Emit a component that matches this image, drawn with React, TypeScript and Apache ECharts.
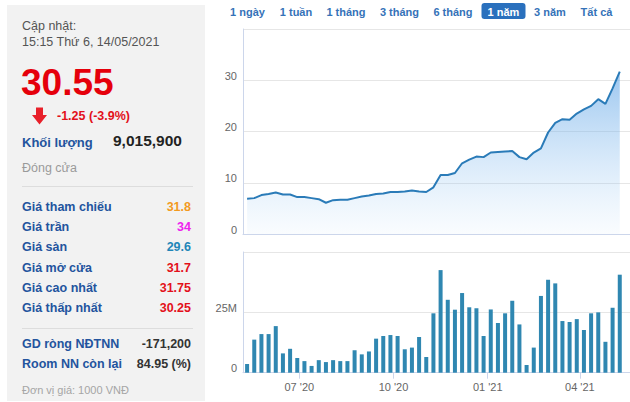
import React, { useEffect, useRef } from "react";
import * as echarts from "echarts";

// Weekly dates (week start)
const weeks: string[] = [
  "2020-05-11", "2020-05-18", "2020-05-25",
  "2020-06-01", "2020-06-08", "2020-06-15", "2020-06-22", "2020-06-29",
  "2020-07-06", "2020-07-13", "2020-07-20", "2020-07-27",
  "2020-08-03", "2020-08-10", "2020-08-17", "2020-08-24", "2020-08-31",
  "2020-09-07", "2020-09-14", "2020-09-21", "2020-09-28",
  "2020-10-05", "2020-10-12", "2020-10-19", "2020-10-26",
  "2020-11-02", "2020-11-09", "2020-11-16", "2020-11-23", "2020-11-30",
  "2020-12-07", "2020-12-14", "2020-12-21", "2020-12-28",
  "2021-01-04", "2021-01-11", "2021-01-18", "2021-01-25",
  "2021-02-01", "2021-02-08", "2021-02-15", "2021-02-22",
  "2021-03-01", "2021-03-08", "2021-03-15", "2021-03-22", "2021-03-29",
  "2021-04-05", "2021-04-12", "2021-04-19", "2021-04-26",
  "2021-05-03", "2021-05-10",
];

// Closing price (thousand VND)
const prices: number[] = [
  6.9, 7.0, 7.6, 7.8, 8.1, 7.7, 7.7, 7.2, 7.2, 7.0,
  6.8, 6.1, 6.6, 6.7, 6.7, 7.0, 7.3, 7.5, 7.8, 7.9,
  8.2, 8.2, 8.3, 8.5, 8.3, 8.2, 9.1, 11.5, 11.5, 11.9,
  13.8, 14.5, 15.1, 15.0, 15.9, 16.0, 16.1, 16.2, 15.0, 14.6,
  15.9, 16.7, 19.8, 21.7, 22.4, 22.3, 23.5, 24.3, 25.0, 26.3,
  25.4, 28.4, 31.7,
];

// Volume (millions of shares)
const volumes: number[] = [
  3.6, 13.7, 16.0, 16.0, 19.3, 8.0, 9.9, 6.1, 4.8, 2.8,
  5.2, 4.4, 5.2, 4.8, 4.8, 9.3, 7.6, 8.8, 14.1, 15.2,
  15.6, 15.2, 9.7, 10.4, 14.8, 6.5, 24.6, 42.5, 30.2, 26.1,
  33.0, 27.1, 26.7, 15.2, 26.2, 20.6, 24.6, 29.8, 20.0, 3.2,
  10.4, 31.8, 38.5, 37.0, 21.4, 21.0, 22.2, 17.7, 24.6, 25.0,
  12.8, 26.9, 40.6,
];

const quarterTicks: string[] = ["2020-07-01", "2020-10-01", "2021-01-01", "2021-04-01"];
const xRange: string[] = ["2020-05-07", "2021-05-20"];
const priceTicks: number[] = [0, 10, 20, 30, 40];
const volumeTicks: number[] = [0, 25, 50];

const tabs: string[] = ["1 ngày", "1 tuần", "1 tháng", "3 tháng", "6 tháng", "1 năm", "3 năm", "Tất cả"];
const tabCenters: number[] = [247.5, 296, 346, 399.5, 453, 503.5, 550, 596.5];
const activeTab = "1 năm";

const infoRows: { label: string; value: string; color: string }[] = [
  { label: "Giá tham chiếu", value: "31.8", color: "#f39a1e" },
  { label: "Giá trần", value: "34", color: "#ee22ee" },
  { label: "Giá sàn", value: "29.6", color: "#1f86b8" },
  { label: "Giá mở cửa", value: "31.7", color: "#e3101a" },
  { label: "Giá cao nhất", value: "31.75", color: "#e3101a" },
  { label: "Giá thấp nhất", value: "30.25", color: "#e3101a" },
];
const foreignRows: { label: string; value: string }[] = [
  { label: "GD ròng NĐTNN", value: "-171,200" },
  { label: "Room NN còn lại", value: "84.95 (%)" },
];

const FONT = "'Liberation Sans', Arial, Helvetica, sans-serif";
const BLUE = "#23549e";

function parseDay(s: string): number {
  const [y, m, d] = s.split("-").map(Number);
  return new Date(y, m - 1, d).getTime();
}

export default function App() {
  const ref = useRef<HTMLDivElement>(null);

  useEffect(() => {
    if (!ref.current) return;
    const chart = echarts.init(ref.current, undefined, { renderer: "svg" });

    const xMin = parseDay(xRange[0]);
    const xMax = parseDay(xRange[1]);
    const qTicks = quarterTicks.map(parseDay);
    const weekTs = weeks.map(parseDay);

    const graphics: any[] = [];
    // left panel
    graphics.push({ type: "rect", shape: { x: 7, y: 5, width: 198, height: 396 }, style: { fill: "#f2f2f2" }, silent: true });
    const txt = (x: number, y: number, text: string, font: string, fill: string, align = "left") => ({
      type: "text",
      x,
      y,
      style: { text, font, fill, textAlign: align, textVerticalAlign: "middle" },
      silent: true,
    });
    graphics.push(txt(22, 26, "Cập nhật:", `12.5px ${FONT}`, "#555555"));
    graphics.push(txt(22, 41.5, "15:15 Thứ 6, 14/05/2021", `12.5px ${FONT}`, "#555555"));
    graphics.push(txt(21, 82, "30.55", `bold 37px ${FONT}`, "#e5000b"));
    graphics.push({
      type: "polygon",
      shape: { points: [[36, 107.5], [43, 107.5], [43, 115], [47, 115], [39.5, 124.5], [32, 115], [36, 115]] },
      style: { fill: "#e8202a" },
      silent: true,
    });
    graphics.push(txt(57, 116, "-1.25 (-3.9%)", `bold 12.5px ${FONT}`, "#e3101a"));
    graphics.push(txt(22, 142, "Khối lượng", `bold 13px ${FONT}`, BLUE));
    graphics.push(txt(113, 140.5, "9,015,900", `bold 15.5px ${FONT}`, "#222222"));
    graphics.push(txt(22, 168, "Đóng cửa", `12.5px ${FONT}`, "#9a9a9a"));
    graphics.push({ type: "line", shape: { x1: 22, y1: 186.5, x2: 193, y2: 186.5 }, style: { stroke: "#dddddd", lineWidth: 1 }, silent: true });
    infoRows.forEach((r, i) => {
      const y = 206.7 + i * 20.3;
      graphics.push(txt(22, y, r.label, `bold 12.5px ${FONT}`, BLUE));
      graphics.push(txt(191, y, r.value, `bold 12.5px ${FONT}`, r.color, "right"));
    });
    graphics.push({ type: "line", shape: { x1: 22, y1: 328.5, x2: 193, y2: 328.5 }, style: { stroke: "#dddddd", lineWidth: 1 }, silent: true });
    foreignRows.forEach((r, i) => {
      const y = 344 + i * 20.3;
      graphics.push(txt(22, y, r.label, `bold 12.5px ${FONT}`, BLUE));
      graphics.push(txt(191, y, r.value, `bold 12.5px ${FONT}`, "#333333", "right"));
    });
    graphics.push(txt(22, 390, "Đơn vị giá: 1000 VNĐ", `11px ${FONT}`, "#a5a5a5"));

    // tabs
    tabs.forEach((t, i) => {
      const cx = tabCenters[i];
      if (t === activeTab) {
        graphics.push({ type: "rect", shape: { x: 481.5, y: 3, width: 44, height: 16, r: 3 }, style: { fill: "#2a70bd" }, silent: true });
        graphics.push(txt(cx, 11.5, t, `bold 11px ${FONT}`, "#ffffff", "center"));
      } else {
        graphics.push(txt(cx, 11.5, t, `bold 11px ${FONT}`, "#3572b8", "center"));
      }
    });

    const fmtQuarter = (v: number) => {
      const d = new Date(v);
      const m = String(d.getMonth() + 1).padStart(2, "0");
      const y = String(d.getFullYear()).slice(2);
      return `${m} '${y}`;
    };

    chart.setOption({
      animation: false,
      backgroundColor: "#ffffff",
      textStyle: { fontFamily: FONT },
      grid: [
        { left: 243, top: 29, right: 0, height: 205, outerBoundsMode: "none" },
        { left: 243, top: 252, right: 0, height: 120.7, outerBoundsMode: "none" },
      ],
      xAxis: [
        {
          type: "value",
          gridIndex: 0,
          min: xMin,
          max: xMax,
          axisLine: { show: true, onZero: false, lineStyle: { color: "#ccd6eb" } },
          axisTick: { show: false },
          axisLabel: { show: false },
          splitLine: { show: false },
        },
        {
          type: "value",
          gridIndex: 1,
          min: xMin,
          max: xMax,
          axisLine: { show: true, onZero: false, lineStyle: { color: "#ccd6eb" } },
          axisTick: { show: true, customValues: qTicks, length: 6, lineStyle: { color: "#ccd6eb" } },
          axisLabel: {
            show: true,
            customValues: qTicks,
            formatter: (v: number) => fmtQuarter(v),
            color: "#666666",
            fontSize: 11,
            margin: 9,
            showMinLabel: true,
            showMaxLabel: true,
          },
          splitLine: { show: false },
        },
      ],
      yAxis: [
        {
          type: "value",
          gridIndex: 0,
          min: priceTicks[0],
          max: priceTicks[priceTicks.length - 1],
          interval: 10,
          axisLine: { show: true, lineStyle: { color: "#ccd6eb" } },
          axisTick: { show: false },
          axisLabel: {
            color: "#666666",
            fontSize: 11,
            margin: 6,
            verticalAlign: "bottom",
            lineHeight: 9,
            formatter: (v: number) => (v === priceTicks[priceTicks.length - 1] ? "" : String(v)),
          },
          splitLine: { show: true, lineStyle: { color: "#e6e6e6" } },
        },
        {
          type: "value",
          gridIndex: 1,
          min: volumeTicks[0],
          max: volumeTicks[volumeTicks.length - 1],
          interval: 25,
          axisLine: { show: true, lineStyle: { color: "#ccd6eb" } },
          axisTick: { show: false },
          axisLabel: {
            color: "#666666",
            fontSize: 11,
            margin: 6,
            verticalAlign: "bottom",
            lineHeight: 9,
            formatter: (v: number) => (v === 0 ? "0" : v === volumeTicks[volumeTicks.length - 1] ? "" : `${v}M`),
          },
          splitLine: { show: true, lineStyle: { color: "#e6e6e6" } },
        },
      ],
      series: [
        {
          type: "line",
          xAxisIndex: 0,
          yAxisIndex: 0,
          data: weekTs.map((t, i) => [t, prices[i]]),
          symbol: "none",
          lineStyle: { color: "#2a7bb8", width: 2 },
          areaStyle: {
            color: new echarts.graphic.LinearGradient(0, 0, 0, 1, [
              { offset: 0, color: "rgba(98,165,230,0.9)" },
              { offset: 1, color: "rgba(160,205,245,0.08)" },
            ]),
          },
          silent: true,
        },
        {
          type: "bar",
          xAxisIndex: 1,
          yAxisIndex: 1,
          data: weekTs.map((t, i) => [t, volumes[i]]),
          barWidth: 4,
          itemStyle: { color: "#2f87b1" },
          silent: true,
        },
      ],
      graphic: graphics,
    });

    return () => chart.dispose();
  }, []);

  return (
    <div
      ref={ref}
      style={{ position: "fixed", left: 0, top: 0, width: 630, height: 402, background: "#ffffff" }}
    />
  );
}
